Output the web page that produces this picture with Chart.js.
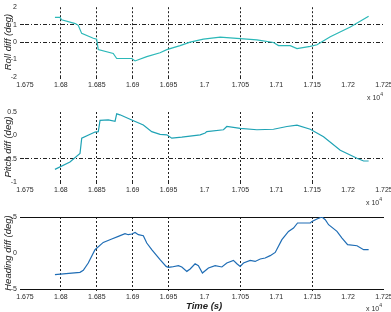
<!DOCTYPE html>
<html><head><meta charset="utf-8">
<script src="https://cdn.jsdelivr.net/npm/chart.js@4"></script>
<style>
html,body{margin:0;padding:0;background:#fff}
body{width:391px;height:312px;position:relative;overflow:hidden;font-family:"Liberation Sans",Arial,sans-serif}
canvas{position:absolute;left:0}
.exp{position:absolute;font-size:7px;color:#333;white-space:nowrap}
.exp sup{font-size:5px;vertical-align:4px}
#xt{position:absolute;font:italic bold 9.5px "Liberation Sans",Arial,sans-serif;color:#222}
</style></head><body>
<canvas id="c1" width="400" height="100" style="top:0"></canvas>
<canvas id="c2" width="400" height="105" style="top:100px"></canvas>
<canvas id="c3" width="400" height="107" style="top:205px"></canvas>
<div class="exp" style="left:367px;top:91px">x 10<sup>4</sup></div>
<div class="exp" style="left:366px;top:196px">x 10<sup>4</sup></div>
<div class="exp" style="left:366px;top:302px">x 10<sup>4</sup></div>
<div id="xt" style="left:186px;top:300px">Time (s)</div>
<script>
// ---- data ----
const xTicks = [1.675,1.68,1.685,1.69,1.695,1.7,1.705,1.71,1.715,1.72,1.725];
const xTickLabels = ["1.675","1.68","1.685","1.69","1.695","1.7","1.705","1.71","1.715","1.72","1.725"];
const xGridAt = [1.68,1.685,1.69,1.695,1.705,1.715];

const rollT = [1.67917,1.67987,1.6801,1.682,1.68242,1.68289,1.68451,1.68498,1.6852,1.68729,1.68777,1.68987,1.69033,1.69196,1.69381,1.69475,1.6966,1.6980,1.69985,1.70218,1.70497,1.7073,1.70961,1.71031,1.71194,1.71288,1.71473,1.71567,1.71752,1.72031,1.72286];
const rollV = [1.42,1.42,1.28,1.06,0.96,0.5,0.22,0.17,-0.43,-0.65,-0.94,-0.94,-1.08,-0.83,-0.61,-0.43,-0.2,0,0.17,0.28,0.2,0.13,-0.02,-0.2,-0.2,-0.37,-0.24,-0.15,0.31,0.87,1.48];
const rollYTicks = [-2,-1,0,1,2];
const rollGridAt = [1,0];

const pitchT = [1.67917,1.68126,1.68266,1.6829,1.68475,1.68521,1.68545,1.6866,1.68754,1.68777,1.68823,1.68987,1.69148,1.69265,1.69381,1.69475,1.69544,1.69684,1.6994,1.70009,1.70032,1.70264,1.70311,1.70497,1.7073,1.70961,1.71148,1.71288,1.71473,1.71658,1.71891,1.72124,1.72216,1.72286];
const pitchV = [-0.73,-0.57,-0.39,-0.06,0.07,0.08,0.32,0.33,0.30,0.46,0.44,0.33,0.22,0.08,0.02,0.01,-0.06,-0.04,0.01,0.05,0.08,0.12,0.19,0.15,0.12,0.13,0.19,0.22,0.13,-0.03,-0.32,-0.49,-0.55,-0.55];
const pitchYTicks = [-1,-0.5,0,0.5];
const pitchGridAt = [-0.5];

const headT = [1.67917,1.68266,1.68312,1.68381,1.68475,1.6859,1.68708,1.688,1.68893,1.68939,1.68987,1.69033,1.69079,1.69148,1.69196,1.69265,1.69381,1.69465,1.69497,1.69544,1.69636,1.69684,1.69754,1.6980,1.69869,1.69915,1.69971,1.70055,1.70148,1.70242,1.70311,1.70403,1.70451,1.70497,1.70543,1.70636,1.70706,1.70776,1.70845,1.70915,1.70985,1.71078,1.7117,1.7124,1.71296,1.71473,1.71497,1.71566,1.71636,1.71682,1.71728,1.71845,1.71915,1.71993,1.72124,1.72216,1.72286];
const headV = [-3.01,-2.69,-2.41,-1.39,0.46,1.47,1.94,2.31,2.68,2.54,2.64,2.86,2.54,2.40,1.39,0.46,-0.93,-1.86,-2.0,-1.94,-1.76,-1.94,-2.55,-2.22,-1.49,-1.76,-2.78,-2.08,-1.76,-1.94,-1.39,-1.03,-1.49,-1.86,-1.39,-1.03,-1.17,-0.83,-0.69,-0.37,0.08,1.85,3.0,3.47,4.17,4.17,4.39,4.72,5.0,4.63,3.93,3.0,2.08,1.15,1.01,0.46,0.46];
const headYTicks = [-5,0,5];
const headGridAt = [5,-5];

const near = (v, arr) => arr.some(a => Math.abs(a - v) < 1e-6);

function makeChart(id, T, V, color, yMin, yMax, yTicks, yGridAt, yDash, yGridColor, yTitle, padTop, xAxisH) {
  new Chart(document.getElementById(id), {
    type: 'line',
    data: { datasets: [{ data: T.map((t, i) => ({ x: t, y: V[i] })), borderColor: color, borderWidth: 1.2, pointRadius: 0, tension: 0, fill: false }] },
    options: {
      responsive: false, animation: false, events: [],
      layout: { padding: { top: padTop, right: 16, left: 0, bottom: 0 } },
      plugins: { legend: { display: false }, tooltip: { enabled: false } },
      scales: {
        x: {
          type: 'linear', min: 1.675, max: 1.725,
          afterBuildTicks: s => { s.ticks = xTicks.map(v => ({ value: v })); },
          afterFit: s => { s.height = xAxisH; },
          ticks: { autoSkip: false, maxRotation: 0, padding: 1, color: '#2a2a2a', font: { size: 7, family: '"Liberation Sans", Arial, sans-serif' },
            callback: (v, i) => xTickLabels[i] },
          grid: { drawTicks: true, tickLength: 3, lineWidth: 1,
            color: c => near(c.tick.value, xGridAt) ? '#222' : 'rgba(0,0,0,0)',
            tickBorderDash: [2, 2] },
          border: { display: false, dash: [2, 2] }
        },
        y: {
          type: 'linear', min: yMin, max: yMax,
          afterBuildTicks: s => { s.ticks = yTicks.map(v => ({ value: v })); },
          afterFit: s => { s.width = 25; },
          ticks: { autoSkip: false, padding: 3, color: '#2a2a2a', font: { size: 7, family: '"Liberation Sans", Arial, sans-serif' },
            callback: v => String(v) },
          grid: { drawTicks: true, tickLength: 5, lineWidth: 1,
            color: c => near(c.tick.value, yGridAt) ? yGridColor : 'rgba(0,0,0,0)',
            tickBorderDash: yDash },
          border: { display: false, dash: yDash },
          title: { display: true, text: yTitle, color: '#222', padding: { top: 3, bottom: 0 },
            font: { size: 9.5, style: 'italic', family: '"Liberation Sans", Arial, sans-serif' } }
        }
      }
    }
  });
}

makeChart('c1', rollT, rollV, '#2bb8b8', -2, 2, rollYTicks, rollGridAt, [4, 2, 1, 2], '#222', 'Roll diff (deg)', 5, 23);
makeChart('c2', pitchT, pitchV, '#1fa3b5', -1, 0.5, pitchYTicks, pitchGridAt, [4, 2, 1, 2], '#222', 'Pitch diff (deg)', 12, 23);
makeChart('c3', headT, headV, '#1f6db5', -5, 5, headYTicks, headGridAt, [], '#111', 'Heading diff (deg)', 12, 23);
</script>
</body></html>
